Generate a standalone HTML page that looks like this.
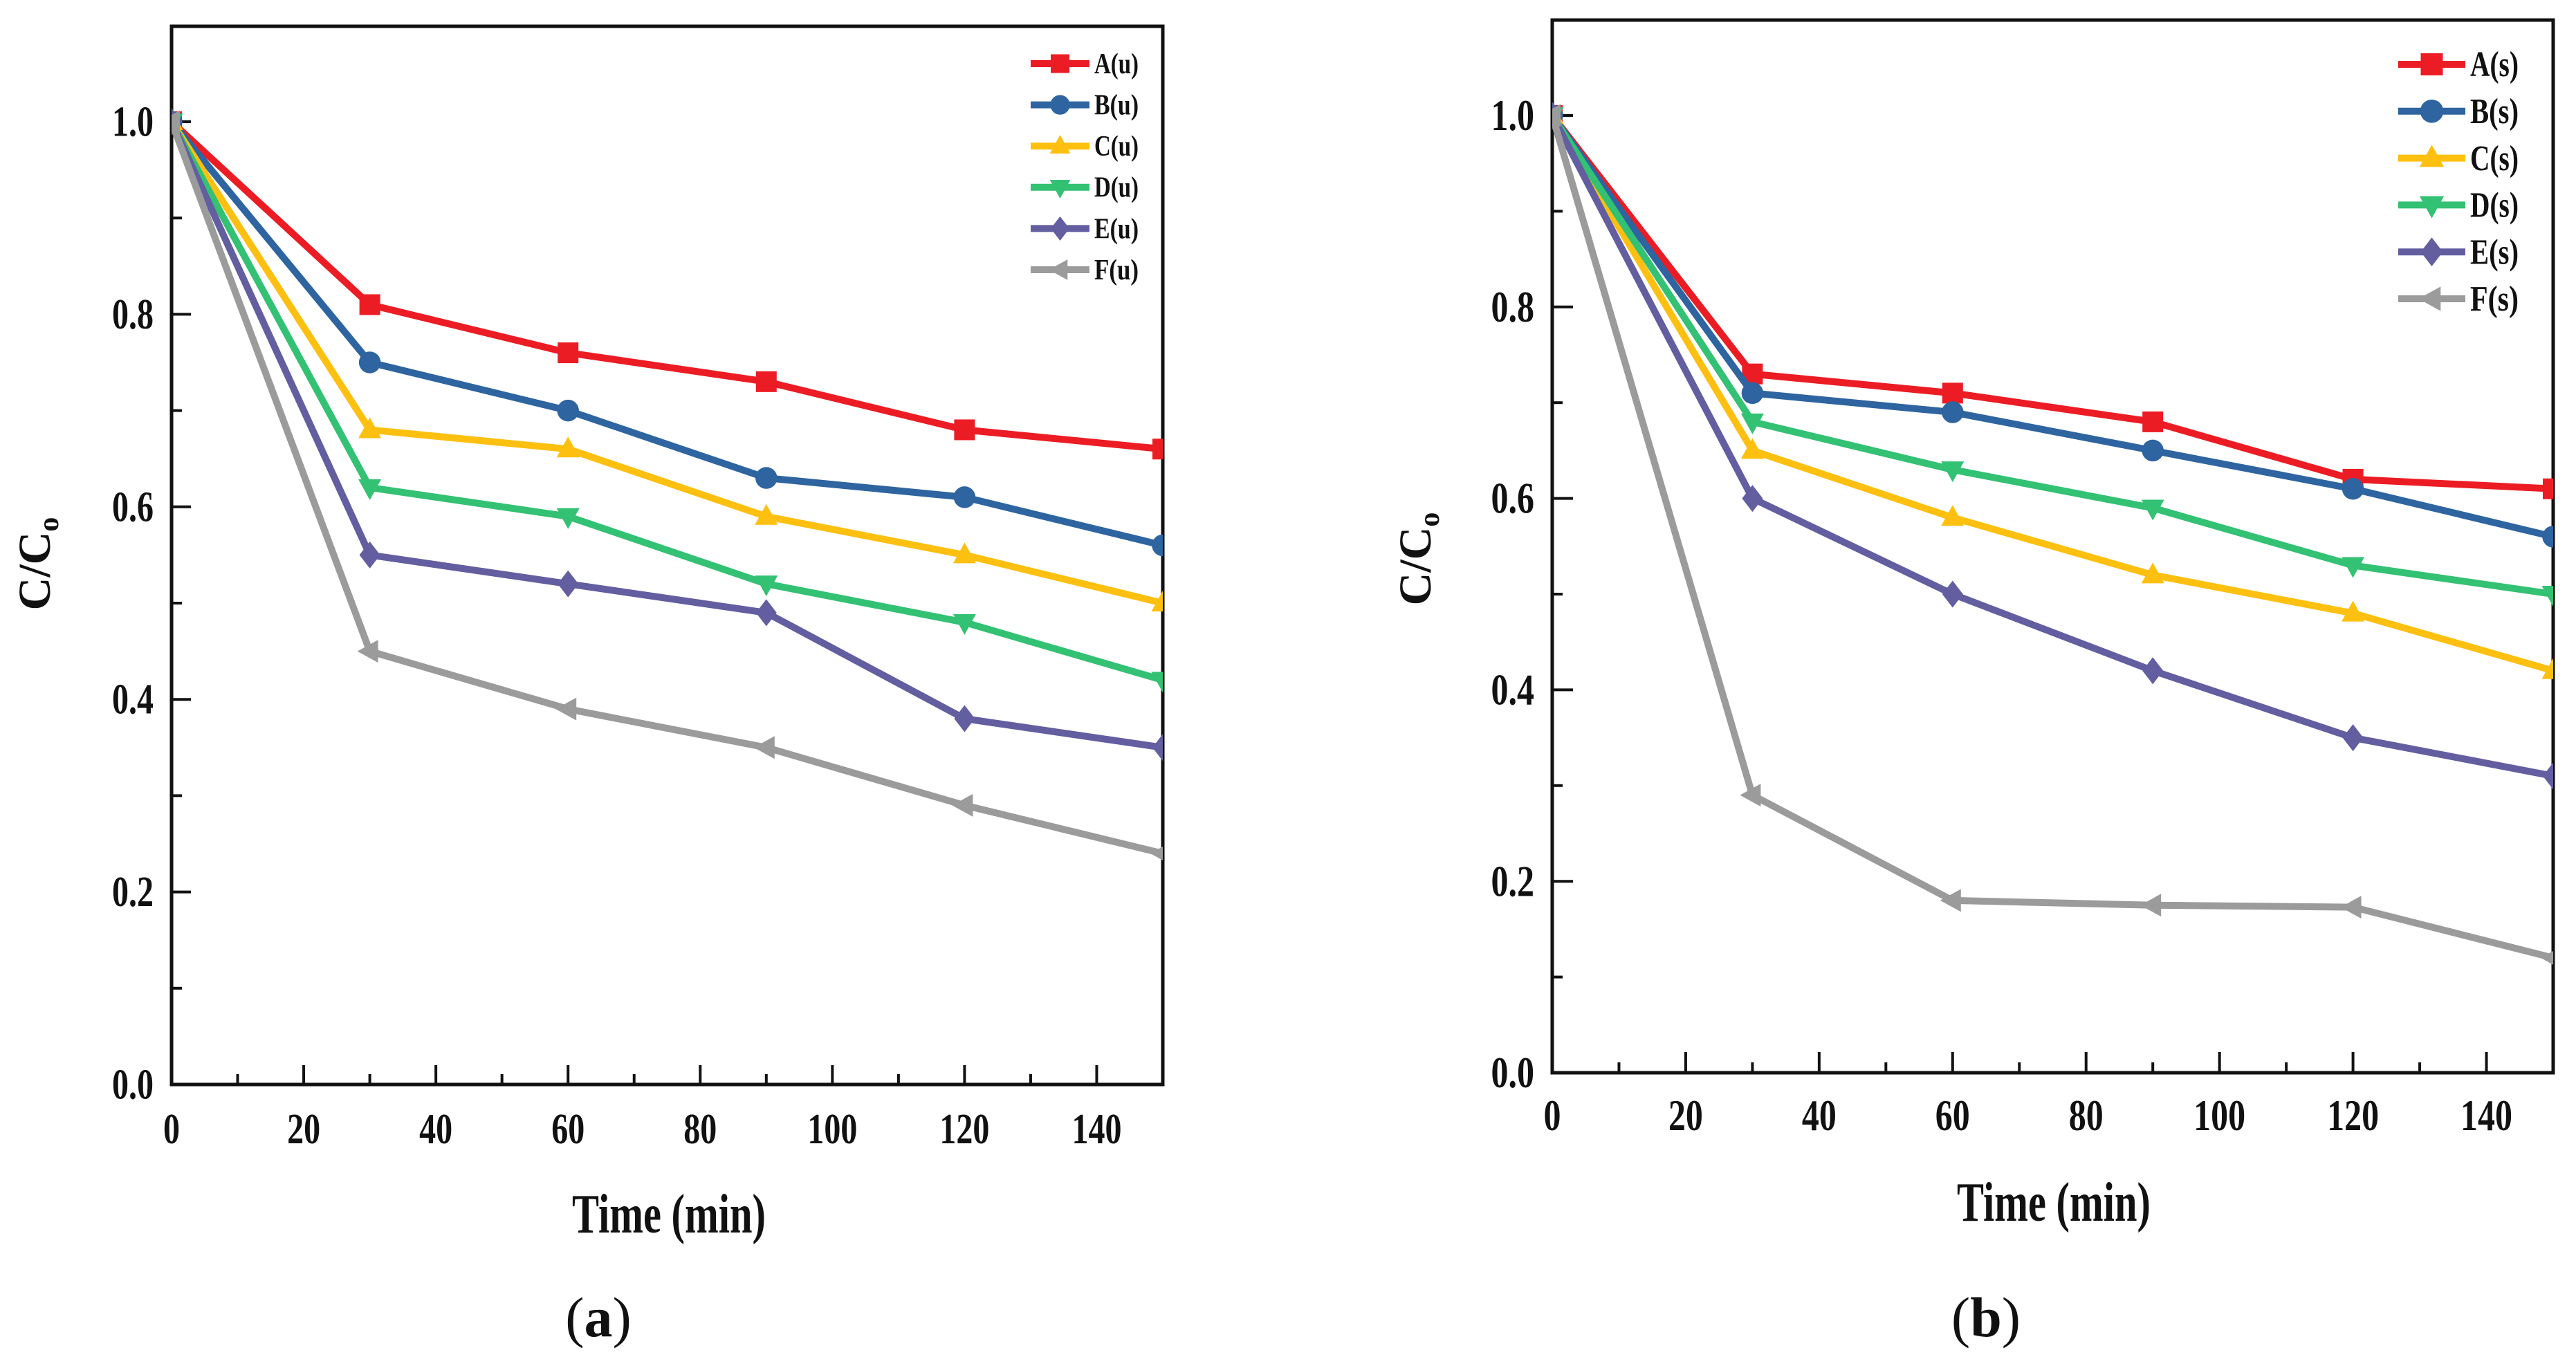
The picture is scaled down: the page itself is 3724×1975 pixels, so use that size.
<!DOCTYPE html>
<html><head><meta charset="utf-8"><style>
html,body{margin:0;padding:0;background:#fff;}
svg{display:block;}
text{font-family:"Liberation Serif",serif;font-weight:bold;fill:#111;}
</style></head><body>
<svg id="fig" width="3724" height="1975" viewBox="0 0 3724 1975" xmlns="http://www.w3.org/2000/svg">
<defs>
<clipPath id="clipA"><rect x="248" y="38" width="1433" height="1530"/></clipPath>
<clipPath id="clipB"><rect x="2244" y="29" width="1447" height="1522"/></clipPath>
</defs>
<g id="panelA"></g>
<g id="panelB"></g>
<text x="865" y="1932" font-size="82" text-anchor="middle" style="font-weight:normal">(<tspan style="font-weight:bold">a</tspan>)</text>
<text x="2871" y="1932" font-size="82" text-anchor="middle" style="font-weight:normal">(<tspan style="font-weight:bold">b</tspan>)</text>
</svg>
<script>
const times = [0, 30, 60, 90, 120, 150];
const xTicks = [0, 20, 40, 60, 80, 100, 120, 140];
const yTicks = [0.0, 0.2, 0.4, 0.6, 0.8, 1.0];
const yTickLabels = ["0.0", "0.2", "0.4", "0.6", "0.8", "1.0"];
const seriesNames = ["A", "B", "C", "D", "E", "F"];
const colors = ["#ec1c24", "#2e64a0", "#fdc010", "#33c173", "#625ea0", "#9b9b9b"];
const markers = ["square", "circle", "tri-up", "tri-down", "diamond", "tri-left"];
const aA = [1, 0.81, 0.76, 0.73, 0.68, 0.66];
const aB = [1, 0.75, 0.70, 0.63, 0.61, 0.56];
const aC = [1, 0.68, 0.66, 0.59, 0.55, 0.50];
const aD = [1, 0.62, 0.59, 0.52, 0.48, 0.42];
const aE = [1, 0.55, 0.52, 0.49, 0.38, 0.35];
const aF = [1, 0.45, 0.39, 0.35, 0.29, 0.24];
const bA = [1, 0.73, 0.71, 0.68, 0.62, 0.61];
const bB = [1, 0.71, 0.69, 0.65, 0.61, 0.56];
const bC = [1, 0.65, 0.58, 0.52, 0.48, 0.42];
const bD = [1, 0.68, 0.63, 0.59, 0.53, 0.50];
const bE = [1, 0.60, 0.50, 0.42, 0.35, 0.31];
const bF = [1, 0.29, 0.18, 0.175, 0.173, 0.12];

const NS = "http://www.w3.org/2000/svg";
function mk(tag, attrs, parent) {
  const e = document.createElementNS(NS, tag);
  for (const k in attrs) e.setAttribute(k, attrs[k]);
  parent.appendChild(e);
  return e;
}
function marker(g, type, cx, cy, s, color) {
  let e;
  const h = s / 2;
  if (type === "square") e = mk("rect", {x: cx - h, y: cy - h, width: s, height: s, fill: color}, g);
  else if (type === "circle") e = mk("circle", {cx: cx, cy: cy, r: h * 1.05, fill: color}, g);
  else if (type === "tri-up") e = mk("polygon", {points: `${cx},${cy - h * 1.2} ${cx + h * 1.1},${cy + h * 0.8} ${cx - h * 1.1},${cy + h * 0.8}`, fill: color}, g);
  else if (type === "tri-down") e = mk("polygon", {points: `${cx},${cy + h * 1.2} ${cx + h * 1.1},${cy - h * 0.8} ${cx - h * 1.1},${cy - h * 0.8}`, fill: color}, g);
  else if (type === "diamond") e = mk("polygon", {points: `${cx},${cy - h * 1.3} ${cx + h},${cy} ${cx},${cy + h * 1.3} ${cx - h},${cy}`, fill: color}, g);
  else e = mk("polygon", {points: `${cx - h * 1.2},${cy} ${cx + h * 0.8},${cy - h * 1.1} ${cx + h * 0.8},${cy + h * 1.1}`, fill: color}, g);
  
  
  return e;
}

function drawPanel(cfg) {
  const g = document.getElementById(cfg.id);
  const X = v => cfg.left + (v / 150) * (cfg.right - cfg.left);
  const Y = v => cfg.bottom - v * (cfg.bottom - cfg.y1);
  // frame
  const fr = mk("rect", {x: cfg.left, y: cfg.top, width: cfg.right - cfg.left, height: cfg.bottom - cfg.top, fill: "none", stroke: "#111", "stroke-width": 5}, g);
  
  
  // x ticks
  for (let v = 0; v <= 150; v += 10) {
    const major = v % 20 === 0;
    const t = mk("line", {x1: X(v), x2: X(v), y1: cfg.bottom, y2: cfg.bottom - (major ? cfg.maj : cfg.min), stroke: "#111", "stroke-width": 4}, g);
    
    
  }
  xTicks.forEach(v => {
    const t = mk("text", {x: X(v), y: cfg.xLabY, "font-size": cfg.fs, "text-anchor": "middle", textLength: String(v).length * cfg.digitW, lengthAdjust: "spacingAndGlyphs"}, g);
    t.textContent = String(v);
    
    
  });
  for (let i = 0; i <= 10; i++) {
    const v = i / 10;
    const major = i % 2 === 0;
    const t = mk("line", {x1: cfg.left, x2: cfg.left + (major ? cfg.maj : cfg.min), y1: Y(v), y2: Y(v), stroke: "#111", "stroke-width": 4}, g);
    
    
  }
  yTicks.forEach((v, i) => {
    const t = mk("text", {x: cfg.left - 26, y: Y(v) + cfg.fs * 0.33, "font-size": cfg.fs, "text-anchor": "end", textLength: cfg.digitW * 2.5, lengthAdjust: "spacingAndGlyphs"}, g);
    t.textContent = yTickLabels[i];
    
    
  });
  // axis titles
  const xt = mk("text", {x: cfg.xTitleX, y: cfg.xTitleY, "font-size": 80, "text-anchor": "middle", textLength: 280, lengthAdjust: "spacingAndGlyphs"}, g);
  xt.textContent = "Time (min)";
  
  
  const yt = mk("text", {x: 0, y: 0, "font-size": 66, "text-anchor": "middle", transform: `translate(${cfg.yTitleX},${cfg.yTitleY}) rotate(-90)`}, g);
  yt.innerHTML = 'C/C<tspan font-size="42" dy="12">o</tspan>';
  
  
  // series
  const plot = mk("g", {"clip-path": `url(#${cfg.clip})`}, g);
  
  
  cfg.data.forEach((vals, si) => {
    const sg = mk("g", {}, plot);
    
    
    const pts = times.map((t, i) => X(t) + "," + Y(vals[i])).join(" ");
    const pl = mk("polyline", {points: pts, fill: "none", stroke: colors[si], "stroke-width": 10, "stroke-linejoin": "round"}, sg);
    
    
    times.forEach((t, i) => marker(sg, markers[si], X(t), Y(vals[i]), 30, colors[si]));
  });
  // legend
  const lg = mk("g", {}, g);
  
  
  seriesNames.forEach((n, si) => {
    const y = cfg.legY + si * cfg.legDy;
    const en = mk("g", {}, lg);
    
    
    mk("line", {x1: cfg.legX1, x2: cfg.legX2, y1: y, y2: y, stroke: colors[si], "stroke-width": 10}, en);
    marker(en, markers[si], (cfg.legX1 + cfg.legX2) / 2, y, cfg.legM, colors[si]);
    const t = mk("text", {x: cfg.legX2 + 7, y: y + cfg.legFs * 0.33, "font-size": cfg.legFs, textLength: cfg.legTW, lengthAdjust: "spacingAndGlyphs"}, en);
    t.textContent = n + "(" + cfg.suffix + ")";
  });
}

drawPanel({id: "panelA", clip: "clipA", left: 248, right: 1681, top: 38, bottom: 1568, y1: 176,
  maj: 28, min: 15, fs: 62, digitW: 24, xLabY: 1653, xTitleX: 967, xTitleY: 1782, yTitleX: 72, yTitleY: 815,
  data: [aA, aB, aC, aD, aE, aF], suffix: "u",
  legX1: 1490, legX2: 1575, legY: 92, legDy: 59.6, legM: 27, legFs: 42, legTW: 64});
drawPanel({id: "panelB", clip: "clipB", left: 2244, right: 3691, top: 29, bottom: 1551, y1: 167,
  maj: 30, min: 15, fs: 64, digitW: 25, xLabY: 1634, xTitleX: 2969, xTitleY: 1765, yTitleX: 2068, yTitleY: 808,
  data: [bA, bB, bC, bD, bE, bF], suffix: "s",
  legX1: 3467, legX2: 3564, legY: 93, legDy: 67.8, legM: 32, legFs: 52, legTW: 70});
</script>
</body></html>
